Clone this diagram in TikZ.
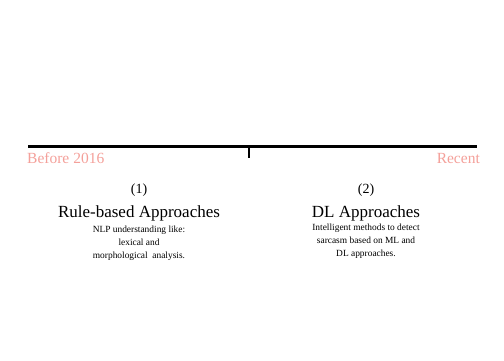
\documentclass[tikz,border=0pt]{standalone}
\usepackage{fontspec}
\setmainfont{Liberation Serif}
\definecolor{era}{HTML}{F4A09A}
\begin{document}
\begin{tikzpicture}[x=1pt,y=-1pt,
  eralabel/.style={text=era,font=\fontsize{15.5}{17}\selectfont,inner sep=0pt},
  num/.style={font=\fontsize{14}{16}\selectfont,inner sep=0pt},
  title/.style={font=\fontsize{17}{19}\selectfont,inner sep=0pt},
  desc/.style={font=\fontsize{9.4}{13.2}\selectfont,align=center,inner sep=0pt,anchor=north}]
\useasboundingbox (0,0) rectangle (504,360);
% timeline axis and midpoint tick
\coordinate (l) at (28,146);
\coordinate (r) at (477,146);
\coordinate (tt) at (249,146);
\coordinate (tb) at (249,157.5);
\draw[line width=3pt] (l) -- (r);
\draw[line width=2pt] (tt) -- (tb);
% period labels
\node[eralabel,anchor=west] (before) at (27,158) {Before 2016};
\node[eralabel,anchor=east] (recent) at (480,158) {Recent};
% first stage
\node[num] (n1) at (139,190) {(1)};
\node[title] (t1) at (139,213.5) {Rule-based Approaches};
\node[desc] (d1) at (139,225.5) {NLP understanding like:\\lexical and\\morphological\ \ analysis.};
% second stage
\node[num] (n2) at (366,190) {(2)};
\node[title] (t2) at (366,213.5) {DL Approaches};
\node[desc] (d2) at (366,223.5) {Intelligent methods to detect\\sarcasm based on ML and\\DL approaches.};
\end{tikzpicture}
\end{document}
